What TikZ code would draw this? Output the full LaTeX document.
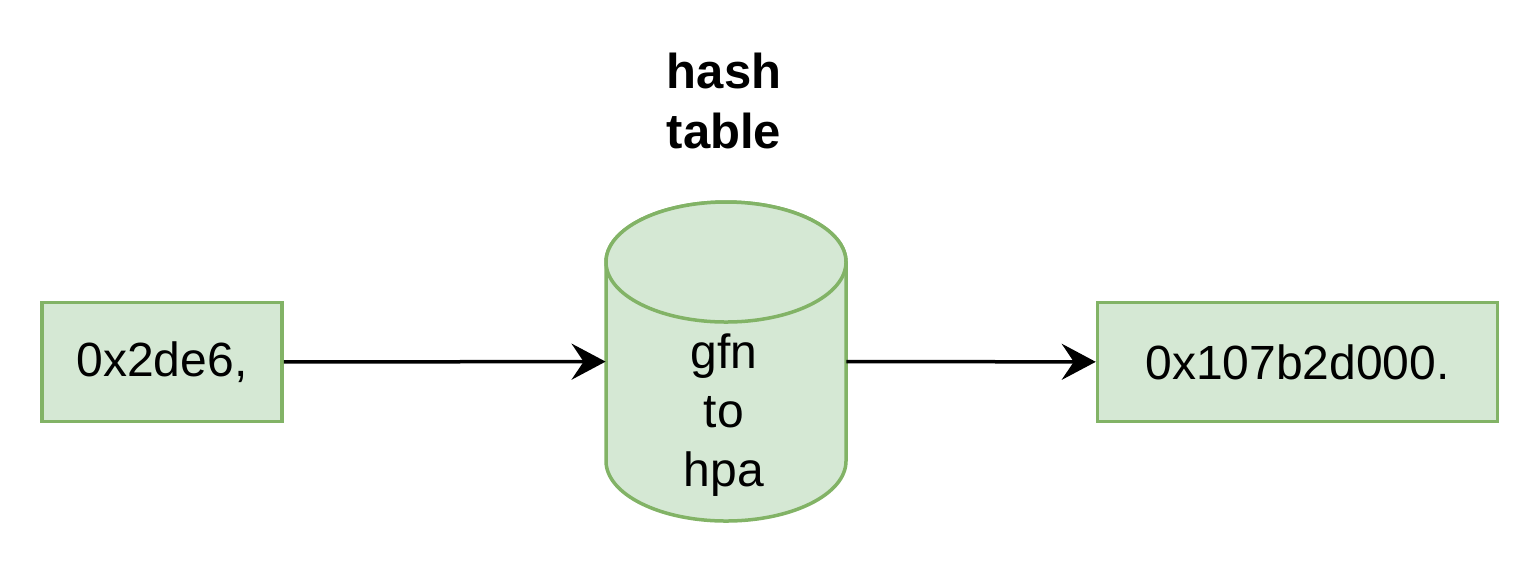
\documentclass[tikz,border=0pt]{standalone}
\usepackage{fontspec}
\setmainfont{Liberation Sans}
\usepackage{tikz}
\usetikzlibrary{arrows.meta, positioning}
\definecolor{boxfill}{HTML}{D5E8D4}
\definecolor{boxline}{HTML}{82B366}

\begin{document}
\begin{tikzpicture}[x=0.5pt, y=0.5pt,
        addr/.style={rectangle, draw=boxline, fill=boxfill, line width=1.75pt, minimum height=59.5pt, inner sep=0pt, text centered, font=\fontsize{24}{29}\selectfont},
        cyl/.style={draw=boxline, fill=boxfill, line width=1.75pt},
        arr/.style={-{Stealth[length=17pt, width=18pt, inset=6pt]}, line width=1.75pt},
        title/.style={align=center, font=\fontsize{24.5}{30}\selectfont\bfseries},
    ]
        \useasboundingbox (0,0) rectangle (1540,-564);

        % Input address
        \node[addr, minimum width=120pt] (gfn) at (162,-362) {0x2de6,};

        % Hash table cylinder
        \draw[cyl] (606,-262) -- (606,-461)
            arc[start angle=180, end angle=360, x radius=60pt, y radius=30pt]
            -- (846,-262)
            arc[start angle=0, end angle=180, x radius=60pt, y radius=30pt] -- cycle;
        \draw[cyl] (726,-262) ellipse[x radius=60pt, y radius=30pt];
        \node[minimum width=120pt, minimum height=159.5pt, inner sep=0pt] (table) at (726,-361.5) {};
        \node[align=center, font=\fontsize{24}{29.5}\selectfont] (tlabel) at (724,-415) {gfn\\to\\hpa};
        \node[title] (ttitle) at (724,-101) {hash\\table};

        % Output address
        \node[addr, minimum width=200pt] (hpa) at (1297.5,-362) {0x107b2d000.};

        % Arrows
        \draw[arr] (gfn) -- (table);
        \draw[arr] (table) -- (hpa);
    \end{tikzpicture}
\end{document}
